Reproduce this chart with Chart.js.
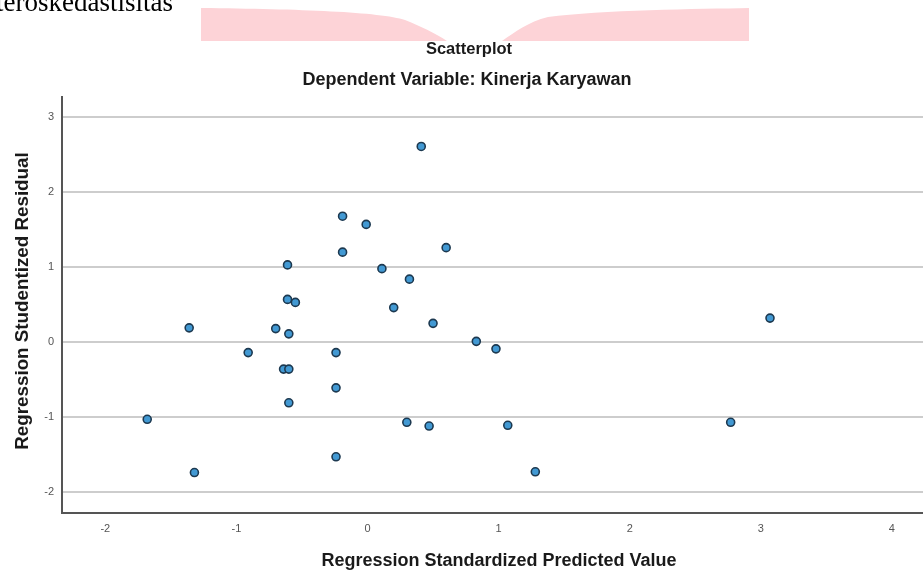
<!DOCTYPE html>
<html>
<head>
<meta charset="utf-8">
<script src="https://cdn.jsdelivr.net/npm/chart.js@4/dist/chart.umd.min.js"></script>
<style>
  html, body { margin: 0; padding: 0; background: #fff; overflow: hidden; }
  #wrap { position: relative; width: 923px; height: 570px; overflow: hidden; }
</style>
</head>
<body>
<div id="wrap"><canvas id="scatter" width="929" height="570"></canvas></div>
<script>
// standardized predicted value (x) and studentized residual (y)
const predicted = [
    0.41, -0.19, -0.01, 0.60, -0.19, -0.61, 0.11, 0.32,
    -0.61, -0.55, 0.20, 0.50, -1.36, -0.70, -0.60, 3.07,
    0.83, 0.98, -0.91, -0.24, -0.64, -0.60, -0.24, -0.60,
    -1.68, 0.30, 0.47, 1.07, 2.77, -0.24, -1.32, 1.28
];
const residual = [
    2.61, 1.68, 1.57, 1.26, 1.20, 1.03, 0.98, 0.84,
    0.57, 0.53, 0.46, 0.25, 0.19, 0.18, 0.11, 0.32,
    0.01, -0.09, -0.14, -0.14, -0.36, -0.36, -0.61, -0.81,
    -1.03, -1.07, -1.12, -1.11, -1.07, -1.53, -1.74, -1.73
];
const xTicks = [-2, -1, 0, 1, 2, 3, 4];
const yTicks = [-2, -1, 0, 1, 2, 3];

const chartTitle = 'Scatterplot';
const chartSubtitle = 'Dependent Variable: Kinerja Karyawan';
const xTitle = 'Regression Standardized Predicted Value';
const yTitle = 'Regression Studentized Residual';
const pageHeading = 'Heteroskedastisitas';

const points = predicted.map((x, i) => ({ x: x, y: residual[i] }));

// page bits around the chart: cut-off heading, pink shape, titles
const decor = {
    id: 'decor',
    beforeDraw(chart) {
        const ctx = chart.ctx;
        ctx.save();
        ctx.fillStyle = '#000';
        ctx.font = '27px "Liberation Serif", "Times New Roman", serif';
        ctx.textAlign = 'right';
        ctx.textBaseline = 'alphabetic';
        ctx.fillText(pageHeading, 173, 11);

        ctx.fillStyle = '#fdd3d7';
        ctx.beginPath();
        ctx.moveTo(201, 41);
        ctx.lineTo(201, 8);
        ctx.bezierCurveTo(300, 9, 380, 12, 405, 20);
        ctx.bezierCurveTo(420, 26, 435, 33, 447, 41);
        ctx.closePath();
        ctx.fill();
        ctx.beginPath();
        ctx.moveTo(502, 41);
        ctx.bezierCurveTo(515, 32, 528, 22, 548, 17);
        ctx.bezierCurveTo(600, 10, 700, 9, 749, 8);
        ctx.lineTo(749, 41);
        ctx.closePath();
        ctx.fill();
        ctx.restore();
    },
    afterDraw(chart) {
        const ctx = chart.ctx;
        ctx.save();
        ctx.fillStyle = '#1a1a1a';
        ctx.textAlign = 'center';
        ctx.textBaseline = 'alphabetic';
        ctx.font = 'bold 16.5px "Liberation Sans", Arial, sans-serif';
        ctx.fillText(chartTitle, 469, 54);
        ctx.font = 'bold 18px "Liberation Sans", Arial, sans-serif';
        ctx.fillText(chartSubtitle, 467, 85);
        ctx.fillText(xTitle, 499, 566);
        ctx.font = 'bold 18.8px "Liberation Sans", Arial, sans-serif';
        ctx.translate(28, 301);
        ctx.rotate(-Math.PI / 2);
        ctx.fillText(yTitle, 0, 0);
        ctx.restore();
    }
};

new Chart(document.getElementById('scatter'), {
    type: 'scatter',
    data: {
        datasets: [{
            data: points,
            pointRadius: 4,
            pointBackgroundColor: '#4299d3',
            pointBorderColor: '#1d3950',
            pointBorderWidth: 1.6
        }]
    },
    options: {
        responsive: false,
        animation: false,
        devicePixelRatio: 1,
        layout: { padding: { top: 97, left: 0, right: 0, bottom: 0 } },
        plugins: {
            legend: { display: false },
            tooltip: { enabled: false },
            title: { display: false }
        },
        scales: {
            x: {
                type: 'linear',
                min: -2.33,
                max: 4.24,
                afterBuildTicks: s => { s.ticks = xTicks.map(v => ({ value: v })); },
                afterFit: s => { s.height = 57; },
                grid: { display: false, drawTicks: false },
                border: { display: true, color: '#555', width: 2 },
                ticks: {
                    color: '#555',
                    padding: 9,
                    font: { size: 11, family: '"Liberation Sans", Arial, sans-serif' }
                }
            },
            y: {
                type: 'linear',
                min: -2.28,
                max: 3.27,
                afterBuildTicks: s => { s.ticks = yTicks.map(v => ({ value: v })); },
                afterFit: s => { s.width = 62; },
                grid: { color: '#cdcdcd', lineWidth: 2, drawTicks: false },
                border: { display: true, color: '#555', width: 2 },
                ticks: {
                    color: '#555',
                    padding: 8,
                    font: { size: 11, family: '"Liberation Sans", Arial, sans-serif' }
                }
            }
        }
    },
    plugins: [decor]
});
</script>
</body>
</html>
